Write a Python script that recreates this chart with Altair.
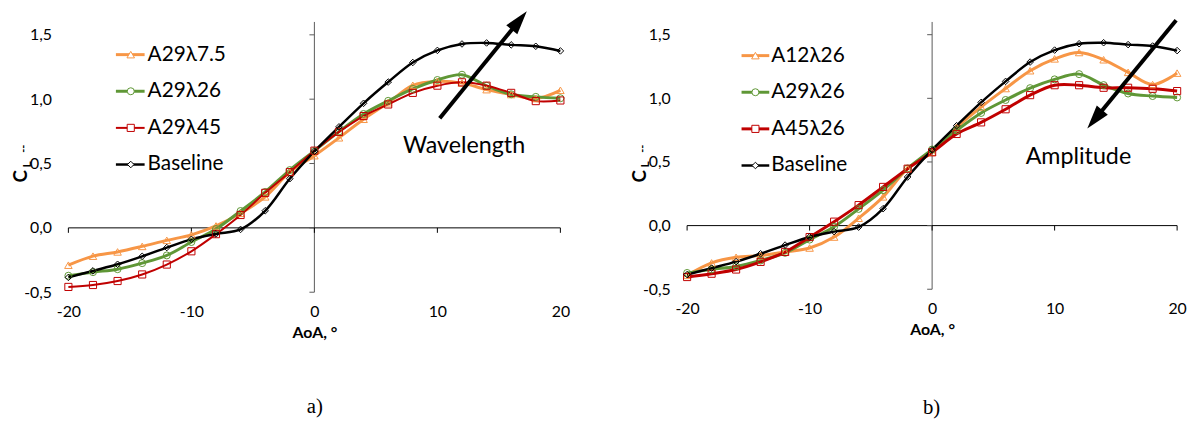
import altair as alt
import pandas as pd

# ---------------- data ----------------
aoa = list(range(-20, 21, 2))

baseline = [-0.385, -0.334, -0.283, -0.221, -0.153, -0.089, -0.047, -0.012, 0.133, 0.382, 0.595,
            0.785, 0.968, 1.133, 1.285, 1.379, 1.429, 1.437, 1.422, 1.411, 1.375]
a29_l7_5 = [-0.290, -0.220, -0.187, -0.144, -0.097, -0.054, 0.015, 0.113, 0.241, 0.433, 0.561,
            0.700, 0.844, 0.972, 1.108, 1.138, 1.125, 1.074, 1.036, 1.005, 1.069]
a29_l26 = [-0.372, -0.344, -0.321, -0.274, -0.214, -0.110, -0.009, 0.131, 0.279, 0.449, 0.598,
           0.748, 0.885, 0.987, 1.080, 1.149, 1.190, 1.104, 1.038, 1.018, 1.007]
a29_l45 = [-0.459, -0.444, -0.413, -0.362, -0.285, -0.182, -0.049, 0.100, 0.272, 0.433, 0.600,
           0.746, 0.869, 0.959, 1.049, 1.105, 1.131, 1.105, 1.049, 0.985, 0.990]
a12_l26 = [-0.391, -0.293, -0.249, -0.236, -0.207, -0.176, -0.090, 0.058, 0.226, 0.447, 0.576,
           0.771, 0.932, 1.077, 1.217, 1.310, 1.360, 1.303, 1.204, 1.108, 1.198]
a45_l26 = [-0.404, -0.378, -0.345, -0.285, -0.207, -0.090, 0.031, 0.161, 0.304, 0.447, 0.576,
           0.720, 0.811, 0.914, 1.025, 1.103, 1.103, 1.083, 1.083, 1.075, 1.057]

left_series = ["A29λ7.5", "A29λ26", "A29λ45", "Baseline"]
right_series = ["A12λ26", "A29λ26", "A45λ26", "Baseline"]
series_values = {
    "A29λ7.5": a29_l7_5, "A29λ26": a29_l26, "A29λ45": a29_l45,
    "A12λ26": a12_l26, "A45λ26": a45_l26, "Baseline": baseline,
}

y_ticks = [-0.5, 0.0, 0.5, 1.0, 1.5]
x_ticks = [-20, -10, 0, 10, 20]

# annotation arrows (data units): shaft start, shaft end, head centre
left_arrow = {"x": [10.19], "y": [0.852], "x2": [16.15], "y2": [1.551], "hx": [16.66], "hy": [1.611]}
right_arrow = {"x": [19.92], "y": [1.614], "x2": [13.79], "y2": [0.895], "hx": [13.28], "hy": [0.835]}

FONT = "Lato"

styles = {
    "A29λ7.5": dict(color="#F79646", shape="triangle-up", lw=3.0, size=58),
    "A12λ26": dict(color="#F79646", shape="triangle-up", lw=3.0, size=58),
    "A29λ26": dict(color="#5F9736", shape="circle", lw=3.0, size=50),
    "A29λ45": dict(color="#C00000", shape="square", lw=2.0, size=52),
    "A45λ26": dict(color="#C00000", shape="square", lw=3.0, size=52),
    "Baseline": dict(color="#000000", shape="diamond", lw=2.5, size=44),
}

ARROW_HEAD = "M0,-1L0.6,1L-0.6,1Z"


def one_row(**kw):
    return pd.DataFrame({k: [v] for k, v in kw.items()})


def panel(series, width, height, arrow, head_angle, note, note_pos, legend_pos, sublabel, sub_pos):
    xs = alt.Scale(domain=[-20, 20], nice=False, zero=False)
    ys = alt.Scale(domain=[-0.5, 1.6], nice=False, zero=False)
    layers = []

    base = alt.Chart(pd.DataFrame({"xt": x_ticks, "yt": [-0.5] * len(x_ticks)})).mark_point(opacity=0).encode(
        x=alt.X("xt:Q", scale=xs,
                axis=alt.Axis(values=x_ticks, labelExpr="datum.value + ''", domain=False, ticks=False, tickSize=0,
                              grid=False, labelFlush=False, labelFont=FONT, labelFontSize=16, labelColor="#000",
                              labelPadding=12, title="AoA, °", titleFont=FONT, titleFontSize=16,
                              titleFontWeight="bold", titleColor="#000", titlePadding=5)),
        y=alt.Y("yt:Q", scale=ys,
                axis=alt.Axis(values=y_ticks,
                              labelExpr="(datum.value < 0 ? '-' : '') + replace(format(abs(datum.value), '.1f'), '.', ',')",
                              domain=False, ticks=False, tickSize=0, grid=False, labelFlush=False, labelFont=FONT,
                              labelFontSize=16, labelColor="#000", labelPadding=17, title=None)),
    )
    layers.append(base)

    # axis lines crossing at zero
    layers.append(alt.Chart(one_row(a=0)).mark_rule(color="#595959", strokeWidth=1).encode(
        x=alt.datum(0), y=alt.datum(-0.5), y2=alt.datum(1.6)))
    layers.append(alt.Chart(one_row(a=0)).mark_rule(color="#000000", strokeWidth=1).encode(
        y=alt.datum(0), x=alt.datum(-20), x2=alt.datum(20)))
    layers.append(alt.Chart(pd.DataFrame({"yt": y_ticks})).mark_rule(color="#595959", strokeWidth=1, x2Offset=-5).encode(
        x=alt.datum(0), x2=alt.datum(0), y="yt:Q"))
    layers.append(alt.Chart(pd.DataFrame({"xt": x_ticks})).mark_rule(color="#000000", strokeWidth=1, y2Offset=5).encode(
        y=alt.datum(0), y2=alt.datum(0), x="xt:Q"))

    # series lines then markers
    for s in series:
        st = styles[s]
        df = pd.DataFrame({"aoa": aoa, "cl": series_values[s]})
        layers.append(alt.Chart(df).mark_line(color=st["color"], strokeWidth=st["lw"], interpolate="catmull-rom").encode(
            x="aoa:Q", y="cl:Q"))
    for s in series:
        st = styles[s]
        df = pd.DataFrame({"aoa": aoa, "cl": series_values[s]})
        layers.append(alt.Chart(df).mark_point(color=st["color"], shape=st["shape"], size=st["size"], filled=False,
                                               strokeWidth=1, opacity=1).encode(x="aoa:Q", y="cl:Q"))

    # legend
    lx0, lx1, lmx, ltx, ly0, ldy = legend_pos
    for i, s in enumerate(series):
        st = styles[s]
        yy = ly0 + i * ldy
        d = one_row(label=s)
        layers.append(alt.Chart(d).mark_rule(color=st["color"], strokeWidth=st["lw"]).encode(
            x=alt.value(lx0), x2=alt.value(lx1), y=alt.value(yy)))
        layers.append(alt.Chart(d).mark_point(color=st["color"], shape=st["shape"], size=st["size"], filled=False,
                                              strokeWidth=1, fill="white", opacity=1).encode(
            x=alt.value(lmx), y=alt.value(yy)))
        layers.append(alt.Chart(d).mark_text(align="left", baseline="middle", font=FONT, fontSize=21, color="#000").encode(
            x=alt.value(ltx), y=alt.value(yy), text="label:N"))

    # arrow
    adf = pd.DataFrame(arrow)
    layers.append(alt.Chart(adf).mark_rule(color="#000", strokeWidth=4).encode(
        x="x:Q", y="y:Q", x2="x2:Q", y2="y2:Q"))
    layers.append(alt.Chart(adf).mark_point(shape=ARROW_HEAD, filled=True, color="#000", size=576, opacity=1,
                                            angle=head_angle).encode(x="hx:Q", y="hy:Q"))
    layers.append(alt.Chart(one_row(t=note)).mark_text(align="left", baseline="middle", font=FONT, fontSize=23.5,
                                                       color="#000").encode(
        x=alt.value(note_pos[0]), y=alt.value(note_pos[1]), text="t:N"))

    # y title  C_L, --
    layers.append(alt.Chart(one_row(t="C")).mark_text(angle=270, align="center", baseline="middle", font=FONT,
                                                      fontSize=19, fontWeight="bold", color="#000").encode(
        x=alt.value(-48), y=alt.value(156), text="t:N"))
    layers.append(alt.Chart(one_row(t="L")).mark_text(angle=270, align="center", baseline="middle", font=FONT,
                                                      fontSize=12, fontWeight="bold", color="#000").encode(
        x=alt.value(-42), y=alt.value(144), text="t:N"))
    layers.append(alt.Chart(one_row(t="--")).mark_text(angle=270, align="center", baseline="middle", font=FONT,
                                                       fontSize=11, fontWeight="bold", color="#000").encode(
        x=alt.value(-45), y=alt.value(128), text="t:N"))

    # sub label a) / b)
    layers.append(alt.Chart(one_row(t=sublabel)).mark_text(align="center", baseline="middle",
                                                           font="Liberation Serif", fontSize=21, color="#000").encode(
        x=alt.value(sub_pos[0]), y=alt.value(sub_pos[1]), text="t:N"))

    return alt.layer(*layers).properties(width=width, height=height)


left = panel(left_series, 497, 273, left_arrow, 39.2, "Wavelength", (338, 125),
             (48, 77, 63, 80, 33, 37), "a)", (249, 389))
right = panel(right_series, 495, 270, right_arrow, 219.2, "Amplitude", (342, 136),
              (55, 83, 69, 85, 34, 37), "b)", (247, 390))

chart = alt.hconcat(left, right, spacing=128, bounds="flush").configure_view(stroke=None).properties(
    padding={"left": 4, "top": 1, "right": 2, "bottom": 2})

chart.save("out.html", embed_options={"renderer": "svg", "actions": False})
